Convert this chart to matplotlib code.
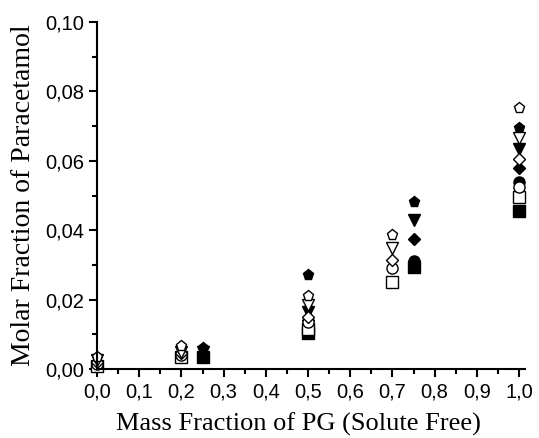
import matplotlib
matplotlib.use("Agg")
import matplotlib.pyplot as plt
from matplotlib.ticker import MultipleLocator, FuncFormatter

# open symbols: mass fractions 0, 0.2, 0.5, 0.7, 1.0
x_open = [0.0, 0.2, 0.5, 0.7, 1.0]
open_square = [0.0010, 0.0035, 0.0115, 0.0250, 0.0495]
open_circle = [0.0015, 0.0040, 0.0135, 0.0290, 0.0525]
open_diamond = [0.0020, 0.0045, 0.0150, 0.0315, 0.0605]
open_triangle = [0.0025, 0.0050, 0.0185, 0.0350, 0.0665]
open_pentagon = [0.0035, 0.0065, 0.0210, 0.0385, 0.0752]

# filled symbols: mass fractions 0.25, 0.5, 0.75, 1.0
x_filled = [0.25, 0.5, 0.75, 1.0]
filled_square = [0.0035, 0.0105, 0.0295, 0.0455]
filled_circle = [0.0040, 0.0120, 0.0310, 0.0540]
filled_diamond = [0.0045, 0.0140, 0.0375, 0.0580]
filled_triangle = [0.0050, 0.0165, 0.0430, 0.0635]
filled_pentagon = [0.0060, 0.0272, 0.0480, 0.0695]

fig = plt.figure(figsize=(5.39, 4.38), dpi=100)
ax = fig.add_axes([0.18, 0.1575, 0.794, 0.7922])

ms = 8
for ys, m in [(filled_square, 's'), (filled_circle, 'o'), (filled_diamond, 'D'),
              (filled_triangle, 'v'), (filled_pentagon, 'p')]:
    msz = ms - 1.5 if m == 'D' else ms
    ax.plot(x_filled, ys, linestyle='none', marker=m, markersize=msz,
            markerfacecolor='black', markeredgecolor='black', clip_on=False)
for ys, m in [(open_square, 's'), (open_circle, 'o'), (open_diamond, 'D'),
              (open_triangle, 'v'), (open_pentagon, 'p')]:
    msz = ms - 1.5 if m == 'D' else ms
    ax.plot(x_open, ys, linestyle='none', marker=m, markersize=msz,
            markerfacecolor='white', markeredgecolor='black', markeredgewidth=1.0,
            clip_on=False)

ax.set_xlim(0, 1.014)
ax.set_ylim(0, 0.10)
ax.xaxis.set_major_locator(MultipleLocator(0.1))
ax.xaxis.set_minor_locator(MultipleLocator(0.05))
ax.yaxis.set_major_locator(MultipleLocator(0.02))
ax.yaxis.set_minor_locator(MultipleLocator(0.01))
ax.xaxis.set_major_formatter(FuncFormatter(lambda v, p: f"{v:.1f}".replace('.', ',')))
ax.yaxis.set_major_formatter(FuncFormatter(lambda v, p: f"{v:.2f}".replace('.', ',')))

for s in ['top', 'right']:
    ax.spines[s].set_visible(False)
for s in ['left', 'bottom']:
    ax.spines[s].set_linewidth(1.5)
ax.tick_params(which='major', direction='out', length=6, width=1.5,
               labelsize=14.5, labelfontfamily='Liberation Sans')
ax.tick_params(which='minor', direction='out', length=3.5, width=1.5)

ax.set_xlabel('Mass Fraction of PG (Solute Free)', fontsize=19,
              family='Liberation Serif', labelpad=8)
ax.xaxis.set_label_coords(0.47, -0.125)
ax.set_ylabel('Molar Fraction of Paracetamol', fontsize=20,
              family='Liberation Serif', labelpad=6)

fig.savefig('out.png', dpi=100)
